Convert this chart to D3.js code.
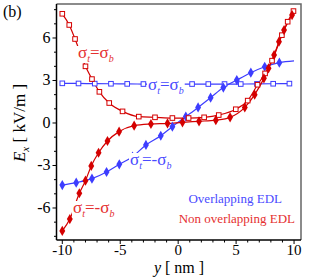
<!DOCTYPE html>
<html><head><meta charset="utf-8">
<script src="https://cdn.jsdelivr.net/npm/d3@7"></script>
<style>body{margin:0;background:#fff}svg{display:block}
svg text{font-family:"Liberation Serif","Tinos","Times New Roman","Times","DejaVu Serif","Noto Serif",serif}</style>
</head><body><svg id="c" width="312" height="277"></svg>
<script>
// Non overlapping EDL, sigma_t = sigma_b (open squares, red)
const redSqY = [-10, -9.4, -8.9, -8.0, -7.44, -6.8, -5.95, -4.8, -3.4, -2.0, -0.5, 0.9, 2.24, 3.5, 4.97, 6.0, 6.85, 7.5, 8.1, 8.95, 9.45, 9.95];
const redSqE = [7.71, 6.92, 5.93, 4.0, 3.1, 2.2, 1.41, 0.82, 0.45, 0.4, 0.35, 0.35, 0.4, 0.56, 0.97, 1.58, 2.7, 3.5, 4.4, 6.2, 7.15, 7.9];
// Non overlapping EDL, sigma_t = -sigma_b (filled diamonds, red)
const redDiY = [-10.0, -9.35, -8.53, -8.0, -7.5, -6.87, -6.1, -5.1, -3.8, -2.35, -0.92, 0.37, 1.8, 3.25, 4.48, 5.75, 6.6, 7.4, 7.8, 8.28, 8.7, 9.14, 9.83];
const redDiE = [-7.62, -6.78, -4.96, -4.07, -3.03, -2.1, -1.27, -0.61, -0.19, -0.07, -0.03, 0.05, 0.12, 0.2, 0.4, 1.1, 2.0, 3.15, 3.86, 4.8, 5.74, 6.56, 7.62];
// Overlapping EDL, sigma_t = sigma_b (open squares, blue)
const bluSqY = [-10, -8.6, -7.2, -5.8, -4.4, -3.0, -1.6, -0.2, 1.2, 2.6, 4.0, 5.4, 6.8, 8.2, 9.6];
const bluSqE = [2.8, 2.79, 2.78, 2.77, 2.76, 2.75, 2.75, 2.75, 2.75, 2.75, 2.75, 2.75, 2.76, 2.77, 2.78];
// Overlapping EDL, sigma_t = -sigma_b (filled diamonds, blue)
const bluDiY = [-10.0, -8.8, -7.44, -6.18, -5.08, -3.94, -2.78, -1.5, -0.5, 0.66, 1.72, 2.8, 3.9, 5.06, 6.27, 7.47, 8.73];
const bluDiE = [-4.38, -4.21, -3.93, -3.46, -2.92, -2.38, -1.55, -0.9, -0.26, 0.45, 1.1, 1.79, 2.5, 3.03, 3.55, 3.97, 4.26];
const bluEndY = [10.0], bluEndE = [4.38];

const xTicks = [-10, -5, 0, 5, 10];
const yTicks = [-6, -3, 0, 3, 6];

const svg = d3.select("#c");
const x = d3.scaleLinear().domain([-10.5, 10.6]).range([56.5, 301]);
const y = d3.scaleLinear().domain([-8.26, 8.4]).range([240, 4]);
const RED = "#d40000", BLUE = "#3d3dff", RED_T = "#e53030", BLUE_T = "#4a4aff";

// frame
svg.append("path").attr("d", `M${x.range()[0]},${y.range()[1]}H${x.range()[1]}V${y.range()[0]}`)
  .attr("fill","none").attr("stroke","#666").attr("stroke-width",1.5);

const zip = (a,b) => a.map((v,i)=>[v,b[i]]);
const line = d3.line().x(d=>x(d[0])).y(d=>y(d[1])).curve(d3.curveMonotoneX);
const series = [
  {pts: zip(bluSqY,bluSqE), color: BLUE, m: "sq"},
  {pts: zip(bluDiY,bluDiE), extra: zip(bluEndY,bluEndE), color: BLUE, m: "di"},
  {pts: zip(redSqY,redSqE), color: RED, m: "sq"},
  {pts: zip(redDiY,redDiE), color: RED, m: "di"}
];
series.forEach(s=>{
  const all = s.extra ? s.pts.concat(s.extra) : s.pts;
  svg.append("path").attr("d", line(all)).attr("fill","none").attr("stroke",s.color).attr("stroke-width",1.2);
});
series.forEach(s=>{
  const g = svg.append("g");
  if (s.m === "sq") {
    g.selectAll("rect").data(s.pts).join("rect")
      .attr("x",d=>x(d[0])-2.3).attr("y",d=>y(d[1])-2.3).attr("width",4.6).attr("height",4.6)
      .attr("fill","#fff").attr("stroke",s.color).attr("stroke-width",1);
  } else {
    g.selectAll("path").data(s.pts).join("path")
      .attr("d", d3.symbol(d3.symbolDiamond, 30)())
      .attr("transform",d=>`translate(${x(d[0])},${y(d[1])})`)
      .attr("fill",s.color);
  }
});

// axes
const gx = svg.append("g").attr("transform",`translate(0,240)`);
gx.append("line").attr("x1",x.range()[0]).attr("x2",x.range()[1]).attr("stroke","#000").attr("stroke-width",1.5);
gx.selectAll("line.mn").data(d3.range(-10,10.01,1)).join("line").attr("class","mn")
  .attr("x1",d=>x(d)).attr("x2",d=>x(d)).attr("y1",0).attr("y2",d=>xTicks.includes(d)?4:2.5).attr("stroke","#000");
gx.selectAll("text").data(xTicks).join("text").attr("x",d=>x(d)).attr("y",14.5)
  .attr("text-anchor","middle").attr("font-size",15).text(d=>d);

const gy = svg.append("g").attr("transform",`translate(${x.range()[0]},0)`);
gy.append("line").attr("y1",y.range()[0]).attr("y2",y.range()[1]).attr("stroke","#000").attr("stroke-width",1.5);
gy.selectAll("line.mn").data(d3.range(-8,8.01,1)).join("line").attr("class","mn")
  .attr("y1",d=>y(d)).attr("y2",d=>y(d)).attr("x1",0).attr("x2",d=>yTicks.includes(d)?-4:-2.5).attr("stroke","#000");
gy.selectAll("text").data(yTicks).join("text").attr("x",-6).attr("y",d=>y(d)+5)
  .attr("text-anchor","end").attr("font-size",16).text(d=>d);

// axis titles
const xt = svg.append("text").attr("x",179).attr("y",272.5).attr("text-anchor","middle").attr("font-size",16);
xt.append("tspan").attr("font-style","italic").text("y");
xt.append("tspan").text(" [ nm ]");
const yt = svg.append("text").attr("transform","translate(25,123) rotate(-90)").attr("text-anchor","middle").attr("font-size",17);
yt.append("tspan").attr("font-style","italic").text("E");
yt.append("tspan").attr("font-style","italic").attr("font-size",11).attr("dy",4).text("x");
yt.append("tspan").attr("dy",-4).text(" [ kV/m ]");

svg.append("text").attr("x",3).attr("y",17).attr("font-size",16).text("(b)");

// curve labels
const labelLayer = svg.append("g");
function sigmaLabel(x0, yb, color, neg) {
  const g = labelLayer.append("g");
  const r = g.append("rect").attr("fill","#fff");
  const t = g.append("text").attr("x",x0).attr("y",yb).attr("font-size",17).attr("fill",color);
  t.append("tspan").text("σ");
  t.append("tspan").attr("font-size",10).attr("font-style","italic").attr("dy",4).text("t");
  t.append("tspan").attr("dy",-4).text(neg ? "=-σ" : "=σ");
  t.append("tspan").attr("font-size",10).attr("font-style","italic").attr("dy",4).text("b");
  const b = t.node().getBBox();
  r.attr("x",b.x-1).attr("y",b.y+3).attr("width",b.width+2).attr("height",b.height-4);
}
sigmaLabel(78, 58, RED_T, false);
sigmaLabel(148, 90, BLUE_T, false);
sigmaLabel(130, 165, BLUE_T, true);
sigmaLabel(73, 213, RED_T, true);

svg.append("text").attr("x",282).attr("y",203).attr("text-anchor","end").attr("font-size",13).attr("fill",BLUE_T).text("Overlapping EDL");
svg.append("text").attr("x",295).attr("y",223).attr("text-anchor","end").attr("font-size",13).attr("fill",RED_T).text("Non overlapping EDL");
</script></body></html>
